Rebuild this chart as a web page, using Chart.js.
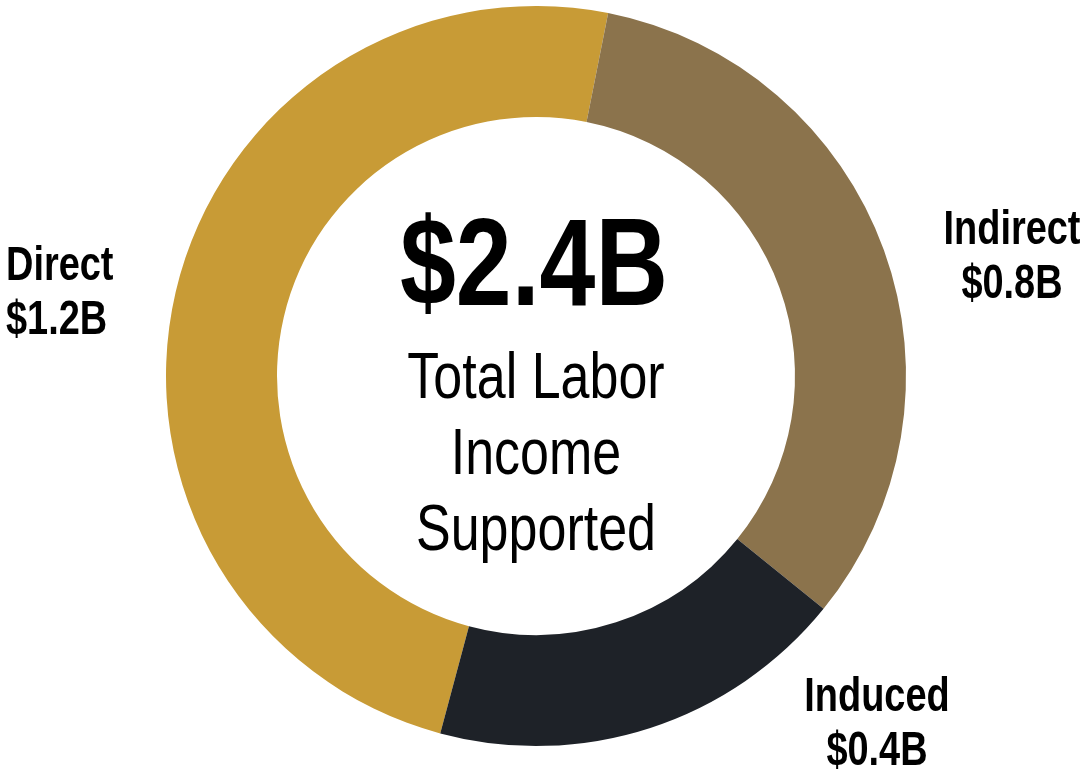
<!DOCTYPE html>
<html>
<head>
<meta charset="utf-8">
<script src="https://cdn.jsdelivr.net/npm/chart.js@4"></script>
<style>
  html, body { margin: 0; padding: 0; background: #fff; }
  canvas { display: block; }
</style>
</head>
<body>
<canvas id="chart" width="1089" height="772"></canvas>
<script>
const categories = ["Direct", "Indirect", "Induced"];
const values = [1.175, 0.785, 0.44];
const valueLabels = ["$1.2B", "$0.8B", "$0.4B"];
const colors = ["#C89B36", "#8B734C", "#1E2228"];
const totalLabel = "$2.4B";
const centerLines = ["Total Labor", "Income", "Supported"];

const FONT = '"Liberation Sans", Arial, sans-serif';

// draw text squeezed horizontally (the original uses a condensed face)
function squeezed(ctx, text, x, y, font, sx, align) {
  ctx.save();
  ctx.translate(x, y);
  ctx.scale(sx, 1);
  ctx.font = font;
  ctx.textAlign = align;
  ctx.textBaseline = "alphabetic";
  ctx.fillStyle = "#000";
  ctx.fillText(text, 0, 0);
  ctx.restore();
}

const labelPlugin = {
  id: "labels",
  afterDraw(chart) {
    const ctx = chart.ctx;
    const arc = chart.getDatasetMeta(0).data[0];
    const cx = arc.x, cy = arc.y;

    // center block
    squeezed(ctx, totalLabel, cx - 2, cy - 71, "bold 124px " + FONT, 0.81, "center");
    const lineY = [22, 98, 174];
    centerLines.forEach((t, i) => {
      squeezed(ctx, t, cx, cy + lineY[i], "65px " + FONT, 0.8, "center");
    });

    // outside labels: [x offset, first baseline offset, align]
    const spots = [
      [-530, -96, "left"],
      [476, -132, "center"],
      [341, 335, "center"]
    ];
    const bold = "bold 48px " + FONT;
    categories.forEach((c, i) => {
      const [dx, dy, align] = spots[i];
      squeezed(ctx, c, cx + dx, cy + dy, bold, 0.79, align);
      squeezed(ctx, valueLabels[i], cx + dx, cy + dy + 54, bold, 0.79, align);
    });
  }
};

new Chart(document.getElementById("chart"), {
  type: "doughnut",
  data: {
    labels: categories,
    datasets: [{
      data: values,
      backgroundColor: colors,
      borderWidth: 0
    }]
  },
  options: {
    responsive: false,
    animation: false,
    cutout: "70%",
    rotation: 195,
    layout: { padding: { top: 6, bottom: 26, left: 0, right: 17 } },
    plugins: {
      legend: { display: false },
      tooltip: { enabled: false }
    }
  },
  plugins: [labelPlugin]
});
</script>
</body>
</html>
